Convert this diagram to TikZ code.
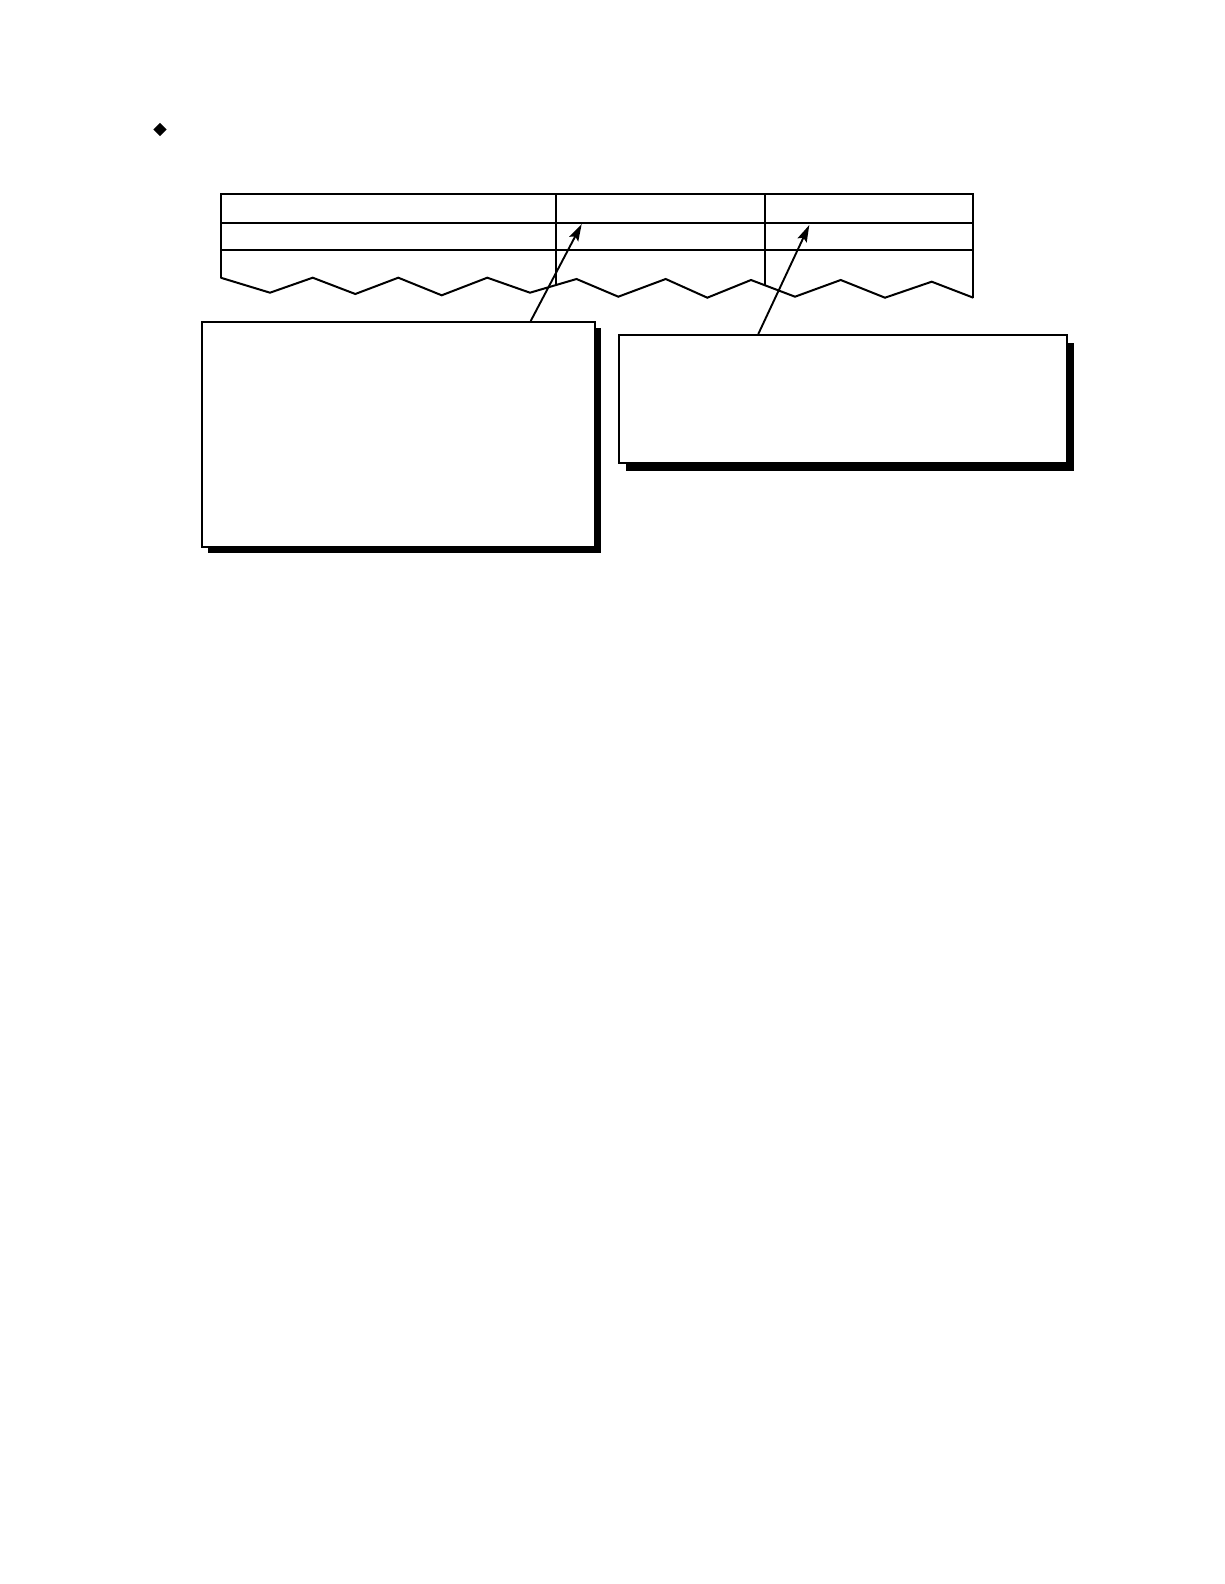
\documentclass[tikz,border=0pt]{standalone}
\usetikzlibrary{shadows,arrows.meta,shapes.geometric}
\begin{document}
\begin{tikzpicture}[x=1pt,y=-1pt,line width=2pt,
  callout/.style={draw,line width=2.1pt,fill=white,inner sep=0pt,anchor=north west},
  lshadow/.style={drop shadow={shadow xshift=6pt,shadow yshift=-6pt,fill=black,opacity=1}},
  rshadow/.style={drop shadow={shadow xshift=7.5pt,shadow yshift=-7.5pt,fill=black,opacity=1}},
  pointer/.style={-{Stealth[length=17pt,width=10pt,inset=3pt]},line width=1.9pt}]
\useasboundingbox (0,0) rectangle (1224,1584);
% bullet
\node[fill=black,diamond,inner sep=0pt,minimum size=14pt] (bullet) at (160,129.5) {};
% torn table
\draw (220.7,277.7) -- (220.7,194) -- (973.3,194) -- (973.3,297.7);
\draw (220.7,223.3) -- (973.3,223.3);
\draw (220.7,250) -- (973.3,250);
\draw (555.5,194) -- (555.5,285);
\draw (764.5,194) -- (764.5,285);
\draw[line join=miter] (220.7,277.7) -- (270,292.7) -- (312.7,277.7) -- (355.3,294) -- (398.3,277.7)
  -- (441.7,295.3) -- (487.3,277.7) -- (530,292.7) -- (576.5,279) -- (618.3,296.7)
  -- (665.7,279) -- (707.3,297.7) -- (751,280) -- (795,296.7) -- (840.7,280)
  -- (885,297.7) -- (931.7,281.7) -- (973.3,297.7);
% callout boxes
\node[callout,lshadow,minimum width=393.3pt,minimum height=225pt] (lbox) at (200.7,321) {};
\node[callout,rshadow,minimum width=448pt,minimum height=128pt] (rbox) at (617.7,334) {};
\coordinate (ltip) at (581.7,224);
\coordinate (rtip) at (809.3,225);
\draw[pointer] (lbox.north west) ++(330,0) coordinate (lstart) -- (ltip);
\draw[pointer] (rbox.north west) ++(140.6,0) coordinate (rstart) -- (rtip);
\end{tikzpicture}
\end{document}
